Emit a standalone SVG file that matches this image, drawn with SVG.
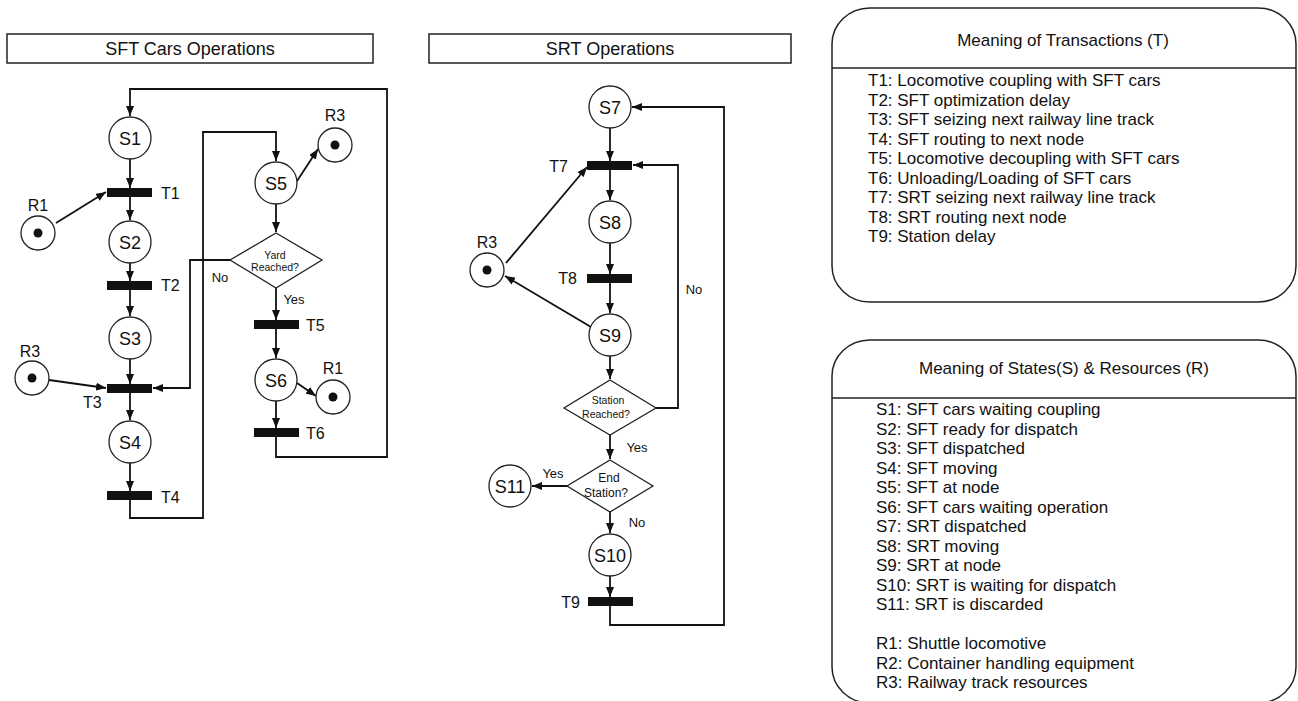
<svg xmlns="http://www.w3.org/2000/svg" width="1298" height="701" viewBox="0 0 1298 701">
<style>
text{font-family:"Liberation Sans",Arial,sans-serif;fill:#111}
.title{font-size:18px;text-anchor:middle}
.st{font-size:18px;text-anchor:middle}
.tl{font-size:16px}
.rl{font-size:16px;text-anchor:middle}
.yn{font-size:13px;text-anchor:middle}
.dq{font-size:10.5px;text-anchor:middle}
.leg{font-size:17px}
.place{fill:#fff;stroke:#222;stroke-width:1.3}
.bar{fill:#111}
.dot{fill:#111}
.box{fill:#fff;stroke:#222;stroke-width:1.5}
.dia{fill:#fff;stroke:#222;stroke-width:1.3}
.conn path{fill:none;stroke:#111;stroke-width:1.8}
</style>
<defs>
<marker id="ah" markerUnits="userSpaceOnUse" markerWidth="10" markerHeight="8" refX="10" refY="4" orient="auto">
<path d="M0,0 L10,4 L0,8 z" fill="#111"/>
</marker>
</defs>

<!-- Title boxes -->
<g id="title-sft"><rect class="box" x="7" y="34" width="366" height="29"/><text class="title" x="190" y="55">SFT Cars Operations</text></g>
<g id="title-srt"><rect class="box" x="429" y="34" width="362" height="29"/><text class="title" x="610" y="55">SRT Operations</text></g>

<!-- Connectors -->
<g id="connectors" class="conn">
<path d="M276,437 V457 H387 V89 H130 V116" marker-end="url(#ah)"/>
<path d="M130,159 V188" marker-end="url(#ah)"/>
<path d="M130,197 V220" marker-end="url(#ah)"/>
<path d="M56,223 L106,192" marker-end="url(#ah)"/>
<path d="M130,263 V281" marker-end="url(#ah)"/>
<path d="M130,289 V316" marker-end="url(#ah)"/>
<path d="M130,359 V384" marker-end="url(#ah)"/>
<path d="M49,380 L106,388" marker-end="url(#ah)"/>
<path d="M130,393 V420" marker-end="url(#ah)"/>
<path d="M130,463 V491" marker-end="url(#ah)"/>
<path d="M130,500 V518 H203 V132 H276 V161" marker-end="url(#ah)"/>
<path d="M297,181 L318,149" marker-end="url(#ah)"/>
<path d="M276,204 V232" marker-end="url(#ah)"/>
<path d="M230,260 H190 V388 H153" marker-end="url(#ah)"/>
<path d="M276,288 V320" marker-end="url(#ah)"/>
<path d="M276,329 V358" marker-end="url(#ah)"/>
<path d="M297,383 L316,396" marker-end="url(#ah)"/>
<path d="M276,401 V428" marker-end="url(#ah)"/>

<path d="M610,128 V161" marker-end="url(#ah)"/>
<path d="M610,170 V200" marker-end="url(#ah)"/>
<path d="M610,243 V274" marker-end="url(#ah)"/>
<path d="M610,283 V313" marker-end="url(#ah)"/>
<path d="M591,327 L505,276" marker-end="url(#ah)"/>
<path d="M506,263 L587,167" marker-end="url(#ah)"/>
<path d="M610,356 V379" marker-end="url(#ah)"/>
<path d="M656,408 H678 V165 H633" marker-end="url(#ah)"/>
<path d="M610,435 V459" marker-end="url(#ah)"/>
<path d="M567,486 H532" marker-end="url(#ah)"/>
<path d="M610,512 V533" marker-end="url(#ah)"/>
<path d="M610,576 V597" marker-end="url(#ah)"/>
<path d="M610,605 V625 H724 V107 H632" marker-end="url(#ah)"/>
</g>

<!-- SFT places -->
<g id="S1"><circle class="place" cx="130" cy="138" r="21"/><text class="st" x="130" y="144.5">S1</text></g>
<g id="S2"><circle class="place" cx="130" cy="242" r="21"/><text class="st" x="130" y="248.5">S2</text></g>
<g id="S3"><circle class="place" cx="130" cy="338" r="21"/><text class="st" x="130" y="344.5">S3</text></g>
<g id="S4"><circle class="place" cx="130" cy="442" r="21"/><text class="st" x="130" y="448.5">S4</text></g>
<g id="S5"><circle class="place" cx="276" cy="183" r="21"/><text class="st" x="276" y="189.5">S5</text></g>
<g id="S6"><circle class="place" cx="276" cy="380" r="21"/><text class="st" x="276" y="386.5">S6</text></g>

<!-- SFT resources -->
<g id="R1a"><circle class="place" cx="38" cy="233" r="17"/><circle class="dot" cx="38" cy="233" r="4.5"/><text class="rl" x="38" y="211">R1</text></g>
<g id="R3a"><circle class="place" cx="335" cy="145" r="17"/><circle class="dot" cx="335" cy="145" r="4.5"/><text class="rl" x="335" y="121">R3</text></g>
<g id="R3b"><circle class="place" cx="32" cy="378" r="17"/><circle class="dot" cx="32" cy="378" r="4.5"/><text class="rl" x="30" y="357">R3</text></g>
<g id="R1b"><circle class="place" cx="333" cy="397" r="17"/><circle class="dot" cx="333" cy="397" r="4.5"/><text class="rl" x="333" y="374">R1</text></g>

<!-- SFT transitions -->
<g id="T1"><rect class="bar" x="107" y="188" width="45" height="9"/><text class="tl" x="161" y="199">T1</text></g>
<g id="T2"><rect class="bar" x="107" y="281" width="45" height="9"/><text class="tl" x="161" y="291">T2</text></g>
<g id="T3"><rect class="bar" x="107" y="384" width="45" height="9"/><text class="tl" x="83" y="408">T3</text></g>
<g id="T4"><rect class="bar" x="107" y="491" width="45" height="9"/><text class="tl" x="161" y="503">T4</text></g>
<g id="T5"><rect class="bar" x="254" y="320" width="45" height="9"/><text class="tl" x="306" y="331">T5</text></g>
<g id="T6"><rect class="bar" x="254" y="428" width="45" height="9"/><text class="tl" x="306" y="439">T6</text></g>

<!-- SFT decision -->
<g id="yard"><polygon class="dia" points="276,233 322,260 276,288 230,260"/><text class="dq" x="275" y="259">Yard</text><text class="dq" x="275" y="271">Reached?</text></g>
<g id="sft-labels"><text class="yn" x="220" y="282">No</text><text class="yn" x="294" y="304">Yes</text></g>

<!-- SRT places -->
<g id="S7"><circle class="place" cx="610" cy="107" r="21"/><text class="st" x="610" y="113.5">S7</text></g>
<g id="S8"><circle class="place" cx="610" cy="222" r="21"/><text class="st" x="610" y="228.5">S8</text></g>
<g id="S9"><circle class="place" cx="610" cy="335" r="21"/><text class="st" x="610" y="341.5">S9</text></g>
<g id="S10"><circle class="place" cx="610" cy="555" r="21"/><text class="st" x="610" y="561.5">S10</text></g>
<g id="S11"><circle class="place" cx="510" cy="486" r="21"/><text class="st" x="510" y="492.5">S11</text></g>
<g id="R3c"><circle class="place" cx="487" cy="270" r="17"/><circle class="dot" cx="487" cy="270" r="4.5"/><text class="rl" x="487" y="248">R3</text></g>

<!-- SRT transitions -->
<g id="T7"><rect class="bar" x="587" y="161" width="45" height="9"/><text class="tl" x="568" y="172" text-anchor="end">T7</text></g>
<g id="T8"><rect class="bar" x="587" y="274" width="45" height="9"/><text class="tl" x="577" y="284" text-anchor="end">T8</text></g>
<g id="T9"><rect class="bar" x="588" y="597" width="45" height="9"/><text class="tl" x="580" y="608" text-anchor="end">T9</text></g>

<!-- SRT decisions -->
<g id="station"><polygon class="dia" points="610,380 656,408 610,435 564,408"/><text class="dq" x="608" y="404">Station</text><text class="dq" x="606" y="418">Reached?</text></g>
<g id="end"><polygon class="dia" points="610,460 653,486 610,512 567,486"/><text class="dq" style="font-size:12px" x="609" y="482">End</text><text class="dq" style="font-size:12px" x="606" y="497">Station?</text></g>
<g id="srt-labels"><text class="yn" x="694" y="294">No</text><text class="yn" x="637" y="452">Yes</text><text class="yn" x="553" y="478">Yes</text><text class="yn" x="637" y="527">No</text></g>

<!-- Legend: transactions -->
<g id="legend-t">
<rect class="box" x="832" y="8" width="464" height="294" rx="38" ry="36"/>
<line x1="832" y1="68" x2="1296" y2="68" stroke="#222" stroke-width="1.3"/>
<text class="leg" x="1063" y="46" text-anchor="middle">Meaning of Transactions (T)</text>
<text class="leg" x="868" y="86">T1: Locomotive coupling with SFT cars</text>
<text class="leg" x="868" y="105.5">T2: SFT optimization delay</text>
<text class="leg" x="868" y="125">T3: SFT seizing next railway line track</text>
<text class="leg" x="868" y="144.5">T4: SFT routing to next node</text>
<text class="leg" x="868" y="164">T5: Locomotive decoupling with SFT cars</text>
<text class="leg" x="868" y="183.5">T6: Unloading/Loading of SFT cars</text>
<text class="leg" x="868" y="203">T7: SRT seizing next railway line track</text>
<text class="leg" x="868" y="222.5">T8: SRT routing next node</text>
<text class="leg" x="868" y="242">T9: Station delay</text>
</g>

<!-- Legend: states & resources -->
<g id="legend-s">
<rect class="box" x="832" y="340" width="464" height="363" rx="38" ry="36"/>
<line x1="832" y1="398" x2="1296" y2="398" stroke="#222" stroke-width="1.3"/>
<text class="leg" x="1064" y="374" text-anchor="middle">Meaning of States(S) &amp; Resources (R)</text>
<text class="leg" x="876" y="415">S1: SFT cars waiting coupling</text>
<text class="leg" x="876" y="434.5">S2: SFT ready for dispatch</text>
<text class="leg" x="876" y="454">S3: SFT dispatched</text>
<text class="leg" x="876" y="473.5">S4: SFT moving</text>
<text class="leg" x="876" y="493">S5: SFT at node</text>
<text class="leg" x="876" y="512.5">S6: SFT cars waiting operation</text>
<text class="leg" x="876" y="532">S7: SRT dispatched</text>
<text class="leg" x="876" y="551.5">S8: SRT moving</text>
<text class="leg" x="876" y="571">S9: SRT at node</text>
<text class="leg" x="876" y="590.5">S10: SRT is waiting for dispatch</text>
<text class="leg" x="876" y="610">S11:  SRT is discarded</text>
<text class="leg" x="876" y="649">R1: Shuttle locomotive</text>
<text class="leg" x="876" y="668.5">R2: Container handling equipment</text>
<text class="leg" x="876" y="688">R3: Railway track resources</text>
</g>
</svg>
